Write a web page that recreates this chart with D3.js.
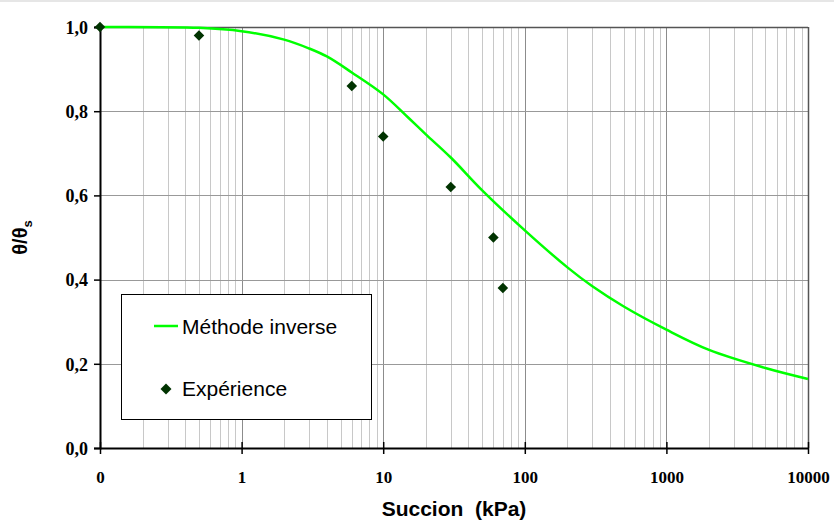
<!DOCTYPE html>
<html>
<head>
<meta charset="utf-8">
<script src="https://cdn.jsdelivr.net/npm/d3@7"></script>
<style>
  body { margin: 0; background: #fff; }
  svg { display: block; }
  .tick-label { font-family: "Liberation Serif", "Times New Roman", serif; font-weight: bold; }
</style>
</head>
<body>
<div id="chart-holder"></div>
<script>
// fitted curve (méthode inverse)
var curveSuction = [0.1, 0.5, 1, 2, 3, 4, 6, 10, 15, 20, 30, 50, 100, 200, 300, 500, 1000, 2000, 5000, 10000];
var curveTheta = [1.0, 0.998, 0.99, 0.97, 0.949, 0.93, 0.892, 0.84, 0.785, 0.745, 0.69, 0.612, 0.517, 0.429, 0.384, 0.336, 0.281, 0.233, 0.19, 0.164];

// measured points (expérience)
var expSuction = [0.1, 0.5, 6, 10, 30, 60, 70];
var expTheta = [1.0, 0.98, 0.86, 0.74, 0.62, 0.50, 0.38];

// tick labels
var xTicks = [0.1, 1, 10, 100, 1000, 10000];
var xTickLabels = ["0", "1", "10", "100", "1000", "10000"];
var yTicks = [0, 0.2, 0.4, 0.6, 0.8, 1.0];

// plot area (note: "top" is reserved on window, so use plot* names)
var width = 834, height = 522;
var plotLeft = 100, plotRight = 808, plotTop = 27, plotBottom = 448;

var svg = d3.select("#chart-holder")
  .append("svg")
  .attr("width", width)
  .attr("height", height);

// thin grey strip at the very top
svg.append("rect")
  .attr("x", 0).attr("y", 0)
  .attr("width", width).attr("height", 2)
  .attr("fill", "#e6e6e6");

var x = d3.scaleLog().domain([0.1, 10000]).range([plotLeft, plotRight]);
var y = d3.scaleLinear().domain([0, 1]).range([plotBottom, plotTop]);

// minor vertical gridlines
var minor = [];
for (var p = -1; p < 4; p++) {
  for (var m = 2; m <= 9; m++) minor.push(m * Math.pow(10, p));
}
svg.selectAll("line.minor")
  .data(minor)
  .enter()
  .append("line")
  .attr("class", "minor")
  .attr("x1", function(d) { return Math.round(x(d)) + 0.5; })
  .attr("x2", function(d) { return Math.round(x(d)) + 0.5; })
  .attr("y1", plotTop)
  .attr("y2", plotBottom)
  .attr("stroke", "#c8c8c8")
  .attr("stroke-width", 1);

// major vertical gridlines
svg.selectAll("line.vmajor")
  .data(xTicks.slice(1))
  .enter()
  .append("line")
  .attr("class", "vmajor")
  .attr("x1", function(d) { return Math.round(x(d)) + 0.5; })
  .attr("x2", function(d) { return Math.round(x(d)) + 0.5; })
  .attr("y1", plotTop)
  .attr("y2", plotBottom)
  .attr("stroke", "#8c8c8c")
  .attr("stroke-width", 1);

// horizontal gridlines
svg.selectAll("line.hgrid")
  .data(yTicks.slice(1))
  .enter()
  .append("line")
  .attr("class", "hgrid")
  .attr("x1", plotLeft)
  .attr("x2", plotRight)
  .attr("y1", function(d) { return Math.round(y(d)) + 0.5; })
  .attr("y2", function(d) { return Math.round(y(d)) + 0.5; })
  .attr("stroke", function(d) { return d === 1 ? "#555" : "#999"; })
  .attr("stroke-width", function(d) { return d === 1 ? 1.5 : 1; });

// right border
svg.append("line")
  .attr("x1", plotRight + 0.5).attr("x2", plotRight + 0.5)
  .attr("y1", plotTop).attr("y2", plotBottom)
  .attr("stroke", "#555")
  .attr("stroke-width", 1.5);

// axes
var xAxis = d3.axisBottom(x)
  .tickValues(xTicks)
  .tickSize(0)
  .tickFormat(function(d, i) { return xTickLabels[i]; });

var gx = svg.append("g")
  .attr("transform", "translate(0," + plotBottom + ")")
  .call(xAxis);
gx.select(".domain").attr("stroke", "#000").attr("stroke-width", 2);
gx.selectAll(".tick text")
  .attr("class", "tick-label")
  .attr("font-size", 17)
  .attr("fill", "#000")
  .attr("dy", 0)
  .attr("y", 35);
gx.selectAll(".tick")
  .append("line")
  .attr("y1", -6)
  .attr("y2", 6)
  .attr("stroke", "#000")
  .attr("stroke-width", 1.5);

var yAxis = d3.axisLeft(y)
  .tickValues(yTicks)
  .tickSize(6)
  .tickFormat(function(d) { return d3.format(".1f")(d).replace(".", ","); });

var gy = svg.append("g")
  .attr("transform", "translate(" + plotLeft + ",0)")
  .call(yAxis);
gy.select(".domain").attr("stroke", "#000").attr("stroke-width", 2);
gy.selectAll(".tick line").attr("stroke", "#000").attr("stroke-width", 1.5);
gy.selectAll(".tick text")
  .attr("class", "tick-label")
  .attr("font-size", 18)
  .attr("fill", "#000")
  .attr("x", -12)
  .attr("dy", "0.35em");

// fitted line
var line = d3.line()
  .x(function(d) { return x(d[0]); })
  .y(function(d) { return y(d[1]); })
  .curve(d3.curveCatmullRom.alpha(0.5));

svg.append("path")
  .datum(d3.zip(curveSuction, curveTheta))
  .attr("d", line)
  .attr("fill", "none")
  .attr("stroke", "#00ff00")
  .attr("stroke-width", 2.5);

// experimental points
var diamond = d3.symbol().type(d3.symbolSquare).size(56);
svg.selectAll("path.point")
  .data(d3.zip(expSuction, expTheta))
  .enter()
  .append("path")
  .attr("class", "point")
  .attr("d", diamond)
  .attr("transform", function(d) {
    return "translate(" + x(d[0]) + "," + y(d[1]) + ") rotate(45)";
  })
  .attr("fill", "#003300");

// legend
var legend = svg.append("g");
legend.append("rect")
  .attr("x", 121.5).attr("y", 294.5)
  .attr("width", 250).attr("height", 125)
  .attr("fill", "#fff")
  .attr("stroke", "#000")
  .attr("stroke-width", 1);
legend.append("line")
  .attr("x1", 154).attr("x2", 178)
  .attr("y1", 326).attr("y2", 326)
  .attr("stroke", "#00ff00")
  .attr("stroke-width", 2.5);
legend.append("text")
  .attr("x", 182).attr("y", 334)
  .attr("font-family", "'Liberation Sans', Arial, sans-serif")
  .attr("font-size", 21)
  .text("Méthode inverse");
legend.append("path")
  .attr("d", d3.symbol().type(d3.symbolSquare).size(60))
  .attr("transform", "translate(166,389) rotate(45)")
  .attr("fill", "#003300");
legend.append("text")
  .attr("x", 182).attr("y", 396)
  .attr("font-family", "'Liberation Sans', Arial, sans-serif")
  .attr("font-size", 21)
  .text("Expérience");

// axis titles
svg.append("text")
  .attr("x", (plotLeft + plotRight) / 2)
  .attr("y", 516)
  .attr("text-anchor", "middle")
  .attr("font-family", "'Liberation Sans', Arial, sans-serif")
  .attr("font-weight", "bold")
  .attr("font-size", 21)
  .style("white-space", "pre")
  .text("Succion  (kPa)");

var yTitle = svg.append("text")
  .attr("transform", "translate(27," + ((plotTop + plotBottom) / 2) + ") rotate(-90)")
  .attr("text-anchor", "middle")
  .attr("font-family", "'Liberation Sans', Arial, sans-serif")
  .attr("font-weight", "bold")
  .attr("font-size", 20);
yTitle.append("tspan").text("θ/θ");
yTitle.append("tspan")
  .attr("font-size", 13)
  .attr("dy", 5)
  .text("s");
</script>
</body>
</html>
